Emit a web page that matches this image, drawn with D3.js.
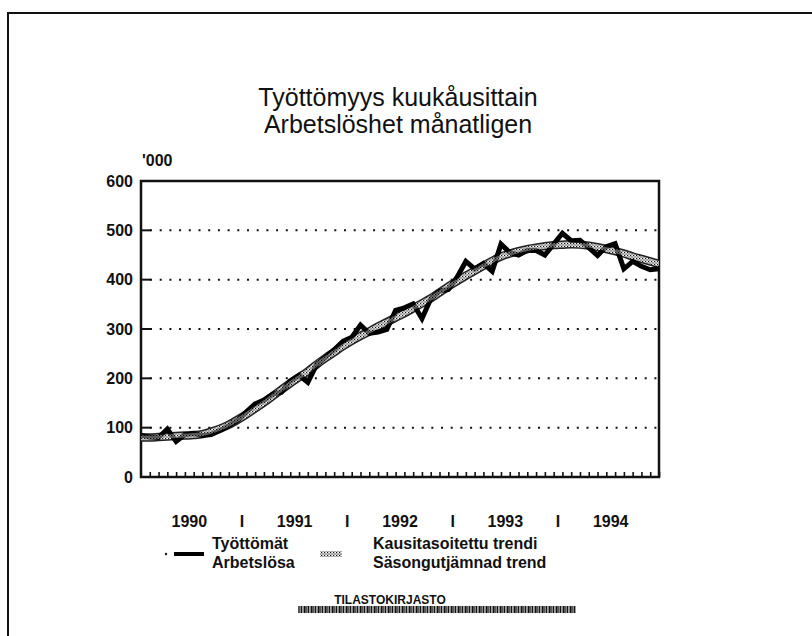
<!DOCTYPE html>
<html><head><meta charset="utf-8">
<script src="https://cdn.jsdelivr.net/npm/d3@7"></script>
<style>body{margin:0;background:#fff} svg{display:block}</style>
</head><body><svg id="c" width="812" height="636"></svg>
<script>
// ---- data ----
const titleLines = ["Työttömyys kuukåusittain", "Arbetslöshet månatligen"];
const unitLabel = "'000";
const years = ["1990", "1991", "1992", "1993", "1994"];
const yTicks = [0, 100, 200, 300, 400, 500, 600];
const gridValues = [100, 200, 300, 400, 500];
// Unemployed ('000), monthly Jan 1990 - Dec 1994
const unemployed = [84, 81, 80, 97, 72, 86, 88, 84, 86, 94, 104, 115,
  132, 148, 156, 168, 172, 195, 206, 192, 228, 243, 258, 275,
  283, 308, 291, 294, 299, 338, 343, 351, 321, 361, 377, 380,
  405, 437, 422, 433, 417, 472, 455, 450, 459, 459, 450, 472,
  494, 479, 480, 465, 449, 467, 473, 422, 437, 427, 420, 422];
// Seasonally adjusted trend ('000)
const trend = [80, 80, 81, 82, 83, 84, 85, 87, 92, 98, 106, 116,
  127, 139, 151, 164, 177, 190, 202, 214, 228, 241, 253, 265,
  276, 286, 295, 305, 314, 323, 332, 342, 352, 362, 374, 386,
  397, 408, 418, 428, 438, 447, 453, 458, 462, 465, 468, 470,
  471, 472, 471, 469, 466, 462, 458, 453, 447, 442, 437, 432];
const legendItems = [
  {key: "actual", lines: ["Työttömät", "Arbetslösa"]},
  {key: "trend", lines: ["Kausitasoitettu trendi", "Säsongutjämnad trend"]}
];
const footerText = "TILASTOKIRJASTO";

// ---- drawing ----
const svg = d3.select("#c");
const W = 812, H = 636;
const plot = {left: 141, right: 659, top: 181, bottom: 477};
const font = "'Liberation Sans', Arial, Helvetica, sans-serif";

const defs = svg.append("defs");
const pat = defs.append("pattern").attr("id", "speck").attr("patternUnits", "userSpaceOnUse")
  .attr("width", 3).attr("height", 3);
pat.append("rect").attr("width", 3).attr("height", 3).attr("fill", "#c8c8c8");
pat.append("rect").attr("x", 0).attr("y", 0).attr("width", 1).attr("height", 1).attr("fill", "#111");
pat.append("rect").attr("x", 1.5).attr("y", 1.5).attr("width", 1).attr("height", 1).attr("fill", "#444");
pat.append("rect").attr("x", 2).attr("y", 0).attr("width", 1).attr("height", 1).attr("fill", "#fff");
const bar = defs.append("pattern").attr("id", "barcode").attr("patternUnits", "userSpaceOnUse")
  .attr("width", 7).attr("height", 10);
bar.append("rect").attr("x", 0).attr("width", 1.4).attr("height", 10).attr("fill", "#111");
bar.append("rect").attr("x", 2.5).attr("width", 2.2).attr("height", 10).attr("fill", "#111");
bar.append("rect").attr("x", 5.3).attr("width", 1.2).attr("height", 10).attr("fill", "#111");

// page frame
svg.append("path").attr("d", `M${W + 2},13 H8 V${H + 2}`).attr("fill", "none")
  .attr("stroke", "#111").attr("stroke-width", 2);

// title
svg.append("g").selectAll("text").data(titleLines).join("text")
  .attr("x", 398).attr("y", (d, i) => 106 + i * 27)
  .attr("text-anchor", "middle").attr("font-family", font).attr("font-size", 25)
  .attr("fill", "#111").text(d => d);

const x = d3.scaleLinear().domain([0, unemployed.length - 1]).range([plot.left, plot.right]);
const y = d3.scaleLinear().domain([0, 600]).range([plot.bottom, plot.top]);

// gridlines (dotted)
svg.append("g").selectAll("line").data(gridValues).join("line")
  .attr("x1", plot.left + 9).attr("x2", plot.right).attr("y1", d => y(d)).attr("y2", d => y(d))
  .attr("stroke", "#111").attr("stroke-width", 2).attr("stroke-dasharray", "2 7.7");

// y axis
const yAxis = d3.axisLeft(y).tickValues(yTicks).tickSize(0).tickPadding(8).tickFormat(d3.format("d"));
const ya = svg.append("g").attr("transform", `translate(${plot.left},0)`).call(yAxis);
ya.select(".domain").remove();
ya.selectAll("text").attr("font-family", font).attr("font-size", 16).attr("font-weight", "bold").attr("fill", "#111");
// inner y ticks
svg.append("g").selectAll("line").data(yTicks.slice(1, -1)).join("line")
  .attr("x1", plot.left).attr("x2", plot.left + 10).attr("y1", d => y(d)).attr("y2", d => y(d))
  .attr("stroke", "#111").attr("stroke-width", 2);
svg.append("text").attr("x", plot.left + 1).attr("y", 166).attr("font-family", font)
  .attr("font-size", 16).attr("font-weight", "bold").attr("fill", "#111").text(unitLabel);

// monthly ticks on x axis (pointing up)
const xAxis = d3.axisTop(x).tickValues(d3.range(1, unemployed.length)).tickSize(5).tickFormat("");
const xa = svg.append("g").attr("transform", `translate(0,${plot.bottom})`).call(xAxis);
xa.select(".domain").remove();
xa.selectAll("line").attr("stroke", "#111").attr("stroke-width", 1.6);

// plot box
svg.append("rect").attr("x", plot.left).attr("y", plot.top)
  .attr("width", plot.right - plot.left).attr("height", plot.bottom - plot.top)
  .attr("fill", "none").attr("stroke", "#111").attr("stroke-width", 2.5);

// year labels and separators
const labY = 527;
svg.append("g").selectAll("text").data(years).join("text")
  .attr("x", (d, i) => x(i * 12 + 5.5)).attr("y", labY).attr("text-anchor", "middle")
  .attr("font-family", font).attr("font-size", 16).attr("font-weight", "bold").attr("fill", "#111").text(d => d);
svg.append("g").selectAll("text").data(years.slice(1)).join("text")
  .attr("x", (d, i) => x((i + 1) * 12 - 0.5)).attr("y", labY).attr("text-anchor", "middle")
  .attr("font-family", font).attr("font-size", 16).attr("font-weight", "bold").attr("fill", "#111").text("I");

// lines
const line = d3.line().x((d, i) => x(i)).y(d => y(d)).curve(d3.curveLinear);
const smooth = d3.line().x((d, i) => x(i)).y(d => y(d)).curve(d3.curveMonotoneX);
defs.append("clipPath").attr("id", "pc").append("rect")
  .attr("x", plot.left).attr("y", plot.top).attr("width", plot.right - plot.left).attr("height", plot.bottom - plot.top);
const g = svg.append("g").attr("clip-path", "url(#pc)");
g.append("path").datum(trend).attr("d", smooth).attr("fill", "none")
  .attr("stroke", "#222").attr("stroke-width", 8.5).attr("stroke-linejoin", "round");
g.append("path").datum(trend).attr("d", smooth).attr("fill", "none")
  .attr("stroke", "url(#speck)").attr("stroke-width", 5.5).attr("stroke-linejoin", "round");
g.append("path").datum(unemployed).attr("d", line).attr("fill", "none")
  .attr("stroke", "#000").attr("stroke-width", 5).attr("stroke-linejoin", "miter");
g.append("path").datum(trend).attr("d", smooth).attr("fill", "none")
  .attr("stroke", "url(#speck)").attr("stroke-width", 4).attr("opacity", 0.5).attr("stroke-linejoin", "round");

// legend
const lg = svg.append("g").attr("font-family", font).attr("font-size", 16).attr("font-weight", "bold").attr("fill", "#111");
lg.append("circle").attr("cx", 166).attr("cy", 554).attr("r", 1.2).attr("fill", "#111");
lg.append("line").attr("x1", 174).attr("x2", 204).attr("y1", 554).attr("y2", 554).attr("stroke", "#000").attr("stroke-width", 4);
lg.append("rect").attr("x", 320).attr("y", 551).attr("width", 22).attr("height", 6).attr("fill", "url(#speck)");
const lx = {actual: 212, trend: 373};
legendItems.forEach(item => {
  lg.append("g").selectAll("text").data(item.lines).join("text")
    .attr("x", lx[item.key]).attr("y", (d, i) => 549 + i * 19).text(d => d);
});

// footer (library stamp)
svg.append("text").attr("x", 390).attr("y", 604).attr("text-anchor", "middle")
  .attr("font-family", "'Liberation Sans Narrow', 'Liberation Sans', Arial, sans-serif")
  .attr("font-size", 12).attr("font-weight", "bold").attr("fill", "#111").text(footerText);
svg.append("rect").attr("x", 298).attr("y", 606).attr("width", 278).attr("height", 7).attr("fill", "url(#barcode)");
</script>
</body></html>
